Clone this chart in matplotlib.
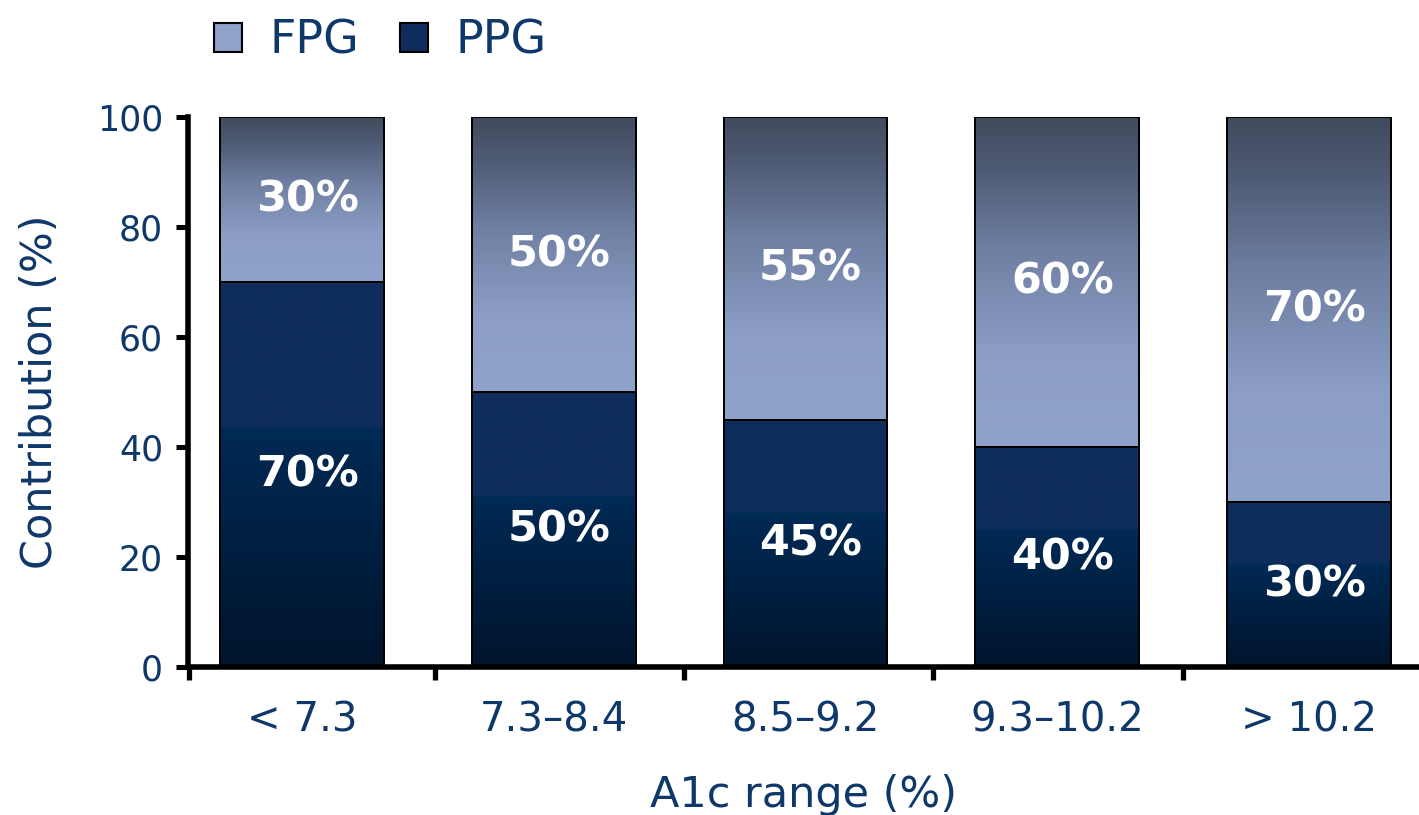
import numpy as np
import matplotlib
matplotlib.use("Agg")
import matplotlib.pyplot as plt
from matplotlib.colors import LinearSegmentedColormap
from matplotlib.patches import Patch

categories = ["< 7.3", "7.3\u20138.4", "8.5\u20139.2", "9.3\u201310.2", "> 10.2"]
ppg = [70, 50, 45, 40, 30]
fpg = [30, 50, 55, 60, 70]
yticks = [0, 20, 40, 60, 80, 100]

TXT = "#0f386a"
FPG_C = "#8fa2ca"
PPG_C = "#0e2d5c"

plt.rcParams["font.family"] = ["DejaVu Sans"]

fig = plt.figure(figsize=(14.19, 8.15), dpi=100)
ax = fig.add_axes([188/1419, 1-667/815, 1-188/1419, (667-117)/815])

x = np.arange(len(categories))
w = 0.651
b_ppg = ax.bar(x, ppg, width=w, color=PPG_C, edgecolor="black", linewidth=1.4, zorder=2)
b_fpg = ax.bar(x, fpg, width=w, bottom=ppg, color=FPG_C, edgecolor="black", linewidth=1.4, zorder=2)

# gradients (bottom -> top)
cm_ppg = LinearSegmentedColormap.from_list("ppg", [(0.0, "#00142c"), (0.62, "#002a55"), (0.625, "#0e2d5c"), (1.0, "#0e2d5c")])
cm_fpg = LinearSegmentedColormap.from_list("fpg", [(0.0, "#8fa2ca"), (0.28, "#8c9ec6"), (0.6, "#6f7fa2"),
                                                     (0.85, "#4e5a73"), (1.0, "#414b5e")])
grad = np.linspace(0, 1, 256).reshape(-1, 1)
for bars, cm in ((b_ppg, cm_ppg), (b_fpg, cm_fpg)):
    for p in bars:
        x0, y0 = p.get_x(), p.get_y()
        ww, hh = p.get_width(), p.get_height()
        im = ax.imshow(grad, cmap=cm, aspect="auto", origin="lower",
                       extent=(x0, x0 + ww, y0, y0 + hh), zorder=2.5, interpolation="bilinear")
        im.set_clip_path(p)
        ax.add_patch(plt.Rectangle((x0, y0), ww, hh, fill=False, edgecolor="black", linewidth=1.4, zorder=3))

# value labels
for i in range(len(categories)):
    ax.text(x[i] + 0.02, ppg[i] / 2, f"{ppg[i]}%", ha="center", va="center", color="white",
            fontsize=31, fontweight="bold", zorder=4)
    ax.text(x[i] + 0.02, ppg[i] + fpg[i] / 2, f"{fpg[i]}%", ha="center", va="center", color="white",
            fontsize=31, fontweight="bold", zorder=4)

ax.set_xlim(-0.453, 4.437)
ax.set_ylim(0, 100)
ax.set_yticks(yticks)
ax.set_xticks(x)
ax.set_xticklabels(categories)
ax.set_xticks([-0.45, 0.528, 1.517, 2.506, 3.5], minor=True)
ax.tick_params(axis="x", which="major", length=0, pad=24, labelsize=29, labelcolor=TXT)
ax.tick_params(axis="x", which="minor", length=9, width=3.8, color="black", direction="out")
ax.tick_params(axis="y", which="major", length=9, width=3.6, pad=9, labelsize=25, labelcolor=TXT, direction="out")

for s in ["top", "right"]:
    ax.spines[s].set_visible(False)
for s in ["left", "bottom"]:
    ax.spines[s].set_linewidth(4)
    ax.spines[s].set_color("black")

ax.set_ylabel("Contribution (%)", fontsize=31, color=TXT, labelpad=26)
ax.set_xlabel("A1c range (%)", fontsize=31, color=TXT, labelpad=24)

handles = [Patch(facecolor=FPG_C, edgecolor="black", linewidth=1.5),
           Patch(facecolor=PPG_C, edgecolor="black", linewidth=1.5)]
fig.legend(handles, ["FPG", "PPG"], loc="upper left", bbox_to_anchor=(173/1419, 1.028), ncol=2,
           frameon=False, fontsize=33, labelcolor=TXT, handlelength=0.6, handleheight=0.6,
           handletextpad=0.6, columnspacing=0.9)

fig.savefig("out.png", dpi=100)
